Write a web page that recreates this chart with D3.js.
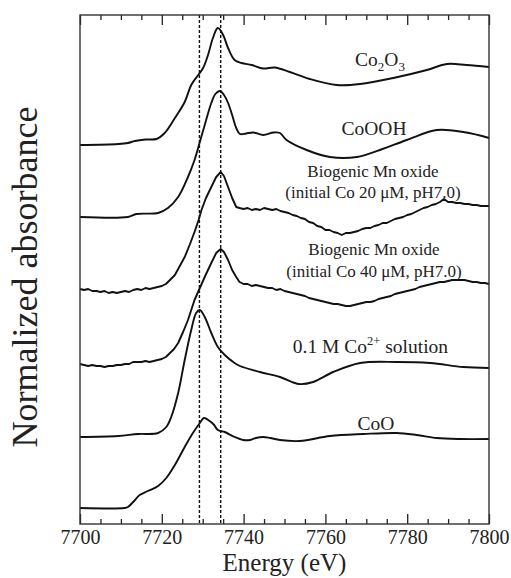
<!DOCTYPE html>
<html>
<head>
<meta charset="utf-8">
<script src="https://cdn.jsdelivr.net/npm/d3@7"></script>
<style>
html,body{margin:0;padding:0;background:#fff;}
svg{display:block;}
text{font-family:"Liberation Serif","Times New Roman",serif;fill:#222;}
</style>
</head>
<body>
<svg id="chart" width="511" height="578"></svg>
<script>
// ---------------- data (energy eV, normalized absorbance + stacking offset) ----------------
const energyDomain = [7700, 7800];
const majorTicks = [7700, 7720, 7740, 7760, 7780, 7800];
const minorTicks = d3.range(7705, 7800, 5).filter(v => v % 20 !== 0);
const refLines = [7729.2, 7734.4];

const co2o3 = [[7700,3.79],[7709.3,3.80],[7711.7,3.81],[7713.4,3.83],[7716,3.845],[7718.7,3.85],[7720.7,3.91],
 [7723.2,4.06],[7725.6,4.22],[7727.2,4.39],[7728.9,4.49],[7730.1,4.56],[7731.3,4.69],[7732.5,4.86],[7733.7,4.96],
 [7735.0,4.89],[7736.2,4.76],[7737.8,4.64],[7739.5,4.61],[7742.0,4.59],[7744.8,4.555],[7747.6,4.565],[7751.3,4.52],
 [7756.2,4.45],[7762.8,4.39],[7768.5,4.40],[7776.6,4.46],[7784.8,4.54],[7789.7,4.60],[7794.5,4.59],[7800,4.57]];

const cooh = [[7700,3.07],[7711.7,3.07],[7713.8,3.10],[7719.1,3.11],[7721.5,3.16],[7724.0,3.27],[7726.4,3.47],
 [7728.0,3.64],[7729.3,3.82],[7730.5,3.99],[7732.1,4.21],[7733.1,4.30],[7734.2,4.33],[7735.2,4.29],[7736.2,4.21],
 [7737.2,4.09],[7738.2,3.96],[7739.1,3.90],[7740.6,3.905],[7742.4,3.915],[7744.8,3.89],[7747.3,3.915],[7748.9,3.91],
 [7750.5,3.84],[7755.4,3.74],[7761.1,3.67],[7767.7,3.67],[7773.3,3.74],[7779.9,3.84],[7787.2,3.94],[7793.7,3.92],[7800,3.86]];

const bio20 = [[7700,2.35],[7701,2.34],[7702,2.35],[7703,2.33],[7704,2.33],[7705,2.32],[7706,2.33],[7707,2.31],
 [7708,2.32],[7709,2.31],[7710,2.32],[7711,2.33],[7712,2.32],[7713,2.34],[7714,2.35],[7715,2.34],[7716,2.36],
 [7717,2.35],[7718,2.36],[7719,2.37],[7720,2.38],[7721,2.40],[7722,2.44],[7723.2,2.49],[7724.4,2.58],[7725.6,2.67],
 [7726.8,2.79],[7728.0,2.92],[7729.0,3.04],[7729.7,3.14],[7730.8,3.26],[7732.1,3.37],[7733.3,3.47],[7734.4,3.52],
 [7735.2,3.48],[7736.2,3.37],[7737.2,3.26],[7738.2,3.17],[7739,3.16],[7740,3.15],[7741,3.16],[7742,3.14],
 [7743,3.15],[7744,3.14],[7745,3.16],[7746,3.15],[7747,3.14],[7748,3.15],[7749,3.13],[7750,3.12],[7751,3.11],
 [7752,3.09],[7753,3.08],[7754,3.06],[7755,3.05],[7756,3.02],[7757,3.01],[7758,2.98],[7759,2.97],[7760,2.94],
 [7761,2.94],[7762,2.92],[7763,2.91],[7764,2.89],[7765,2.91],[7766,2.91],[7767,2.92],[7768,2.93],[7769,2.95],
 [7770,2.96],[7771,2.96],[7772,2.98],[7773,2.99],[7774,3.01],[7775,3.01],[7776,3.03],[7777,3.05],[7778,3.06],
 [7779,3.07],[7780,3.09],[7781,3.10],[7782,3.12],[7783,3.14],[7784,3.16],[7785,3.17],[7786,3.19],[7787,3.20],
 [7788,3.22],[7789,3.25],[7790,3.22],[7791,3.22],[7792,3.21],[7793,3.21],[7794,3.20],[7795,3.20],[7796,3.19],
 [7797,3.19],[7798,3.18],[7799,3.18],[7800,3.18]];

const bio40 = [[7700,1.60],[7701,1.59],[7702,1.58],[7703,1.59],[7704,1.58],[7705,1.58],[7706,1.57],[7707,1.58],
 [7708,1.58],[7709,1.59],[7710,1.59],[7711,1.60],[7712,1.60],[7713,1.62],[7714,1.62],[7715,1.62],[7716,1.63],
 [7717,1.62],[7718,1.63],[7719,1.64],[7720,1.65],[7721,1.67],[7722,1.71],[7723,1.75],[7724,1.81],[7725.2,1.92],
 [7726.4,2.04],[7727.2,2.14],[7728.0,2.24],[7729.3,2.36],[7730.6,2.48],[7732.1,2.61],[7733.3,2.71],[7734.4,2.75],
 [7735.2,2.72],[7736.2,2.64],[7737.2,2.54],[7738.2,2.47],[7739,2.42],[7740,2.40],[7741,2.40],[7742,2.38],
 [7743,2.39],[7744,2.38],[7745,2.37],[7746,2.36],[7747,2.36],[7748,2.34],[7749,2.35],[7750,2.33],[7751,2.32],
 [7752,2.31],[7753,2.30],[7754,2.29],[7755,2.28],[7756,2.26],[7757,2.25],[7758,2.24],[7759,2.23],[7760,2.22],
 [7761,2.21],[7762,2.20],[7763,2.20],[7764,2.19],[7765,2.18],[7766,2.18],[7767,2.19],[7768,2.20],[7769,2.21],
 [7770,2.22],[7771,2.22],[7772,2.23],[7773,2.25],[7774,2.26],[7775,2.27],[7776,2.28],[7777,2.30],[7778,2.31],
 [7779,2.32],[7780,2.33],[7781,2.34],[7782,2.35],[7783,2.37],[7784,2.38],[7785,2.39],[7786,2.40],[7787,2.41],
 [7788,2.42],[7789,2.42],[7790,2.43],[7791,2.44],[7792,2.44],[7793,2.44],[7794,2.44],[7795,2.43],[7796,2.42],
 [7797,2.42],[7798,2.41],[7799,2.41],[7800,2.40]];

const co2sol = [[7700,0.87],[7709.3,0.88],[7714.2,0.90],[7719.1,0.91],[7721.1,0.97],[7722.3,1.07],[7724.0,1.31],
 [7725.6,1.64],[7727.2,1.94],[7728.4,2.11],[7729.3,2.14],[7730.5,2.07],[7732.1,1.91],[7733.7,1.77],[7735.4,1.69],
 [7737.8,1.61],[7739.1,1.58],[7744.0,1.52],[7748.9,1.47],[7753.4,1.40],[7757.0,1.42],[7761.9,1.52],[7768.5,1.61],
 [7777.4,1.62],[7785.6,1.61],[7793.7,1.57],[7800,1.56]];

const coo = [[7700,0.16],[7710.9,0.16],[7711.7,0.17],[7713.0,0.22],[7714.6,0.29],[7716.6,0.33],[7719.1,0.38],
 [7721.1,0.46],[7723.2,0.59],[7725.6,0.77],[7727.6,0.91],[7729.3,1.01],[7730.3,1.06],[7731.7,1.03],[7732.8,0.99],
 [7733.7,0.94],[7735.4,0.92],[7737.8,0.87],[7739.9,0.84],[7741.6,0.84],[7743.0,0.86],[7744.8,0.87],[7746.5,0.86],
 [7748.9,0.84],[7753.8,0.83],[7761.1,0.88],[7769.3,0.90],[7777.4,0.91],[7782.3,0.89],[7787.2,0.86],[7792.9,0.85],[7800,0.85]];

const seriesList = [
  {data: co2o3, noisy: false},
  {data: cooh, noisy: false},
  {data: bio20, noisy: true},
  {data: bio40, noisy: true},
  {data: co2sol, noisy: false},
  {data: coo, noisy: false}
];

// ---------------- chart ----------------
const W = 511, H = 578;
const m = {left: 80, right: 22, top: 15, bottom: 54};
const svg = d3.select("#chart");
const x = d3.scaleLinear().domain(energyDomain).range([m.left, W - m.right]);
const y = d3.scaleLinear().domain([0, 5.09]).range([H - m.bottom, m.top]);

// reference dashed lines
svg.append("g").selectAll("line").data(refLines).join("line")
  .attr("x1", d => x(d)).attr("x2", d => x(d))
  .attr("y1", y.range()[1]).attr("y2", y.range()[0])
  .attr("stroke", "#111").attr("stroke-width", 1.4).attr("stroke-dasharray", "3,2");

// curves
const lineSmooth = d3.line().x(d => x(d[0])).y(d => y(d[1])).curve(d3.curveCatmullRom.alpha(0.5));
const lineNoisy = d3.line().x(d => x(d[0])).y(d => y(d[1])).curve(d3.curveLinear);
svg.append("g").selectAll("path").data(seriesList).join("path")
  .attr("d", s => (s.noisy ? lineNoisy : lineSmooth)(s.data))
  .attr("fill", "none").attr("stroke", "#111").attr("stroke-width", 1.9)
  .attr("stroke-linejoin", "round");

// axes
const bottomY = y.range()[0], topY = y.range()[1];
function styleAxis(g) {
  g.select(".domain").remove();
  g.selectAll(".tick line").attr("stroke", "#222").attr("stroke-width", 1.3);
}
svg.append("g").attr("transform", `translate(0,${bottomY})`)
  .call(d3.axisBottom(x).tickValues(minorTicks).tickSize(-5).tickFormat(""))
  .call(styleAxis);
svg.append("g").attr("transform", `translate(0,${bottomY})`)
  .call(d3.axisBottom(x).tickValues(majorTicks).tickSize(-10).tickPadding(6).tickFormat(d3.format("d")))
  .call(styleAxis)
  .call(g => g.selectAll("text").attr("font-size", 20).attr("font-family", "Liberation Serif").attr("fill", "#222"));
svg.append("g").attr("transform", `translate(0,${topY})`)
  .call(d3.axisTop(x).tickValues(minorTicks).tickSize(-5).tickFormat(""))
  .call(styleAxis);
svg.append("g").attr("transform", `translate(0,${topY})`)
  .call(d3.axisTop(x).tickValues(majorTicks).tickSize(-10).tickFormat(""))
  .call(styleAxis);

// frame
svg.append("rect")
  .attr("x", m.left).attr("y", m.top)
  .attr("width", W - m.left - m.right).attr("height", H - m.top - m.bottom)
  .attr("fill", "none").attr("stroke", "#333").attr("stroke-width", 1.4);

// axis titles
svg.append("text").attr("x", (m.left + W - m.right) / 2).attr("y", 571)
  .attr("text-anchor", "middle").attr("font-size", 25).text("Energy (eV)");
svg.append("text")
  .attr("transform", `translate(37,277) rotate(-90)`)
  .attr("text-anchor", "middle").attr("font-size", 36).text("Normalized absorbance");

// series labels
const t1 = svg.append("text").attr("x", 380).attr("y", 65.7).attr("text-anchor", "middle").attr("font-size", 19.5);
t1.append("tspan").text("Co");
t1.append("tspan").attr("font-size", 13).attr("dy", 5).text("2");
t1.append("tspan").attr("dy", -5).text("O");
t1.append("tspan").attr("font-size", 13).attr("dy", 5).text("3");

svg.append("text").attr("x", 374).attr("y", 135).attr("text-anchor", "middle").attr("font-size", 19.5).text("CoOOH");

svg.append("text").attr("x", 373).attr("y", 176.7).attr("text-anchor", "middle").attr("font-size", 17).text("Biogenic Mn oxide");
svg.append("text").attr("x", 373).attr("y", 197.7).attr("text-anchor", "middle").attr("font-size", 17).text("(initial Co 20 μM, pH7.0)");
svg.append("text").attr("x", 374).attr("y", 255).attr("text-anchor", "middle").attr("font-size", 17).text("Biogenic Mn oxide");
svg.append("text").attr("x", 374).attr("y", 277.3).attr("text-anchor", "middle").attr("font-size", 17).text("(initial Co 40 μM, pH7.0)");

const t2 = svg.append("text").attr("x", 370.5).attr("y", 353.3).attr("text-anchor", "middle").attr("font-size", 19.5);
t2.append("tspan").text("0.1 M Co");
t2.append("tspan").attr("font-size", 12.5).attr("dy", -8).text("2+");
t2.append("tspan").attr("dy", 8).text(" solution");

svg.append("text").attr("x", 376).attr("y", 430).attr("text-anchor", "middle").attr("font-size", 19.5).text("CoO");
</script>
</body>
</html>
